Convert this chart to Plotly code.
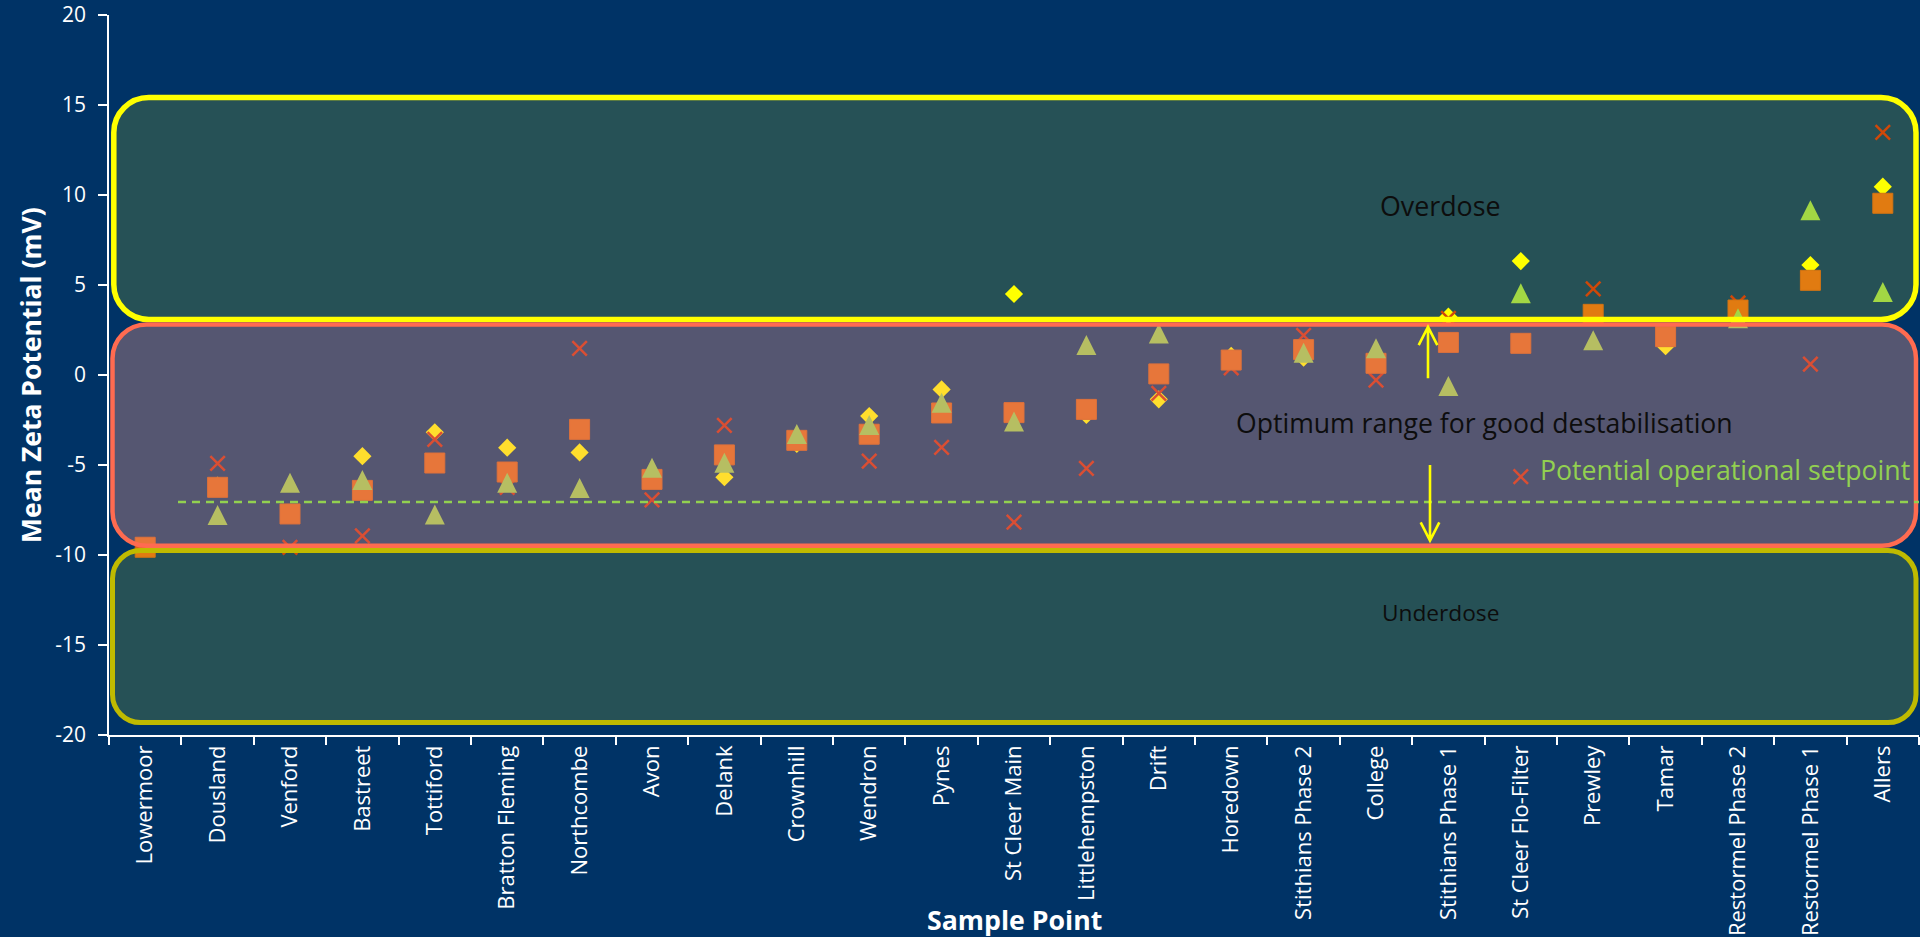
import plotly.graph_objects as go

# Sample points along the x axis
sample_points = [
    "Lowermoor", "Dousland", "Venford", "Bastreet", "Tottiford",
    "Bratton Fleming", "Northcombe", "Avon", "Delank", "Crownhill",
    "Wendron", "Pynes", "St Cleer Main", "Littlehempston", "Drift",
    "Horedown", "Stithians Phase 2", "College", "Stithians Phase 1",
    "St Cleer Flo-Filter", "Prewley", "Tamar", "Restormel Phase 2",
    "Restormel Phase 1", "Allers",
]

# Mean zeta potential (mV) for each sampling run
run_diamond = [None, -6.15, None, -4.51, -3.18, -4.04, -4.30, None, -5.68, -3.83,
               -2.28, -0.80, 4.50, -2.22, -1.35, 1.07, 0.96, None, 3.24,
               6.33, None, 1.60, None, 6.11, 10.46]
run_triangle = [None, -7.78, -5.99, -5.83, -7.75, -5.98, -6.28, -5.15, -4.87, -3.28,
                -2.78, -1.54, -2.59, 1.67, 2.31, None, 1.24, 1.48, -0.61,
                4.54, 1.93, None, 3.15, 9.15, 4.61]
run_cross = [None, -4.91, -9.57, -8.94, -3.57, -6.24, 1.48, -6.94, -2.80, None,
             -4.78, -4.02, -8.18, -5.19, -1.02, 0.40, 2.20, -0.28, 3.15,
             -5.65, 4.79, None, 4.00, 0.61, 13.48]
run_square = [-9.57, -6.24, -7.72, -6.41, -4.89, -5.39, -3.02, -5.80, -4.44, -3.63,
              -3.29, -2.11, -2.09, -1.91, 0.06, 0.83, 1.41, 0.65, 1.81,
              1.76, 3.37, 2.13, 3.61, 5.26, 9.54]

y_ticks = [-20, -15, -10, -5, 0, 5, 10, 15, 20]
y_tick_text = ["-20", "-15", "-10", "-5", "0", "5", "10", "15", "20"]

# Dosing bands (mV) and the proposed setpoint
overdose_band = (3.08, 15.42)
optimum_band = (-9.49, 2.81)
underdose_band = (-19.31, -9.75)
setpoint = -7.05

# Figure geometry
FIG_W, FIG_H = 1920, 937
M_L, M_R, M_T, M_B = 109, 1, 15, 202
PLOT_W = FIG_W - M_L - M_R
PLOT_H = FIG_H - M_T - M_B
Y_MIN, Y_MAX = -20, 20
PX_PER_UNIT = PLOT_H / (Y_MAX - Y_MIN)

BG = "#003366"
FONT = "Open Sans"

# Triangle markers are tip-anchored ("arrow-up"); their overlay axis is offset by
# half the marker height so each triangle is centred on its value.
TRI_SIZE = 20
TRI_SHIFT = (TRI_SIZE / 2) / PX_PER_UNIT


def px_to_paper_x(px):
    return (px - M_L) / PLOT_W


def rounded_rect(x0, x1, y0, y1, r):
    """Rounded rectangle path: x in paper units, y in data units, r in pixels."""
    rx = r / PLOT_W
    ry = r / PX_PER_UNIT
    k = 0.5523
    return (
        f"M{x0 + rx},{y1} L{x1 - rx},{y1} "
        f"C{x1 - rx + k * rx},{y1} {x1},{y1 - ry + k * ry} {x1},{y1 - ry} "
        f"L{x1},{y0 + ry} "
        f"C{x1},{y0 + ry - k * ry} {x1 - rx + k * rx},{y0} {x1 - rx},{y0} "
        f"L{x0 + rx},{y0} "
        f"C{x0 + rx - k * rx},{y0} {x0},{y0 + ry - k * ry} {x0},{y0 + ry} "
        f"L{x0},{y1 - ry} "
        f"C{x0},{y1 - ry + k * ry} {x0 + rx - k * rx},{y1} {x0 + rx},{y1} Z"
    )


def arrow_path(x_px, y_tail, y_tip, head_w=9.3, head_l=18.2):
    """Open-headed vertical arrow: x in pixels, y in data units."""
    x = px_to_paper_x(x_px)
    dx = head_w / PLOT_W
    dy = head_l / PX_PER_UNIT * (1 if y_tip < y_tail else -1)
    return (
        f"M{x},{y_tail} L{x},{y_tip} "
        f"M{x - dx},{y_tip + dy} L{x},{y_tip} L{x + dx},{y_tip + dy}"
    )


fig = go.Figure()

fig.add_trace(go.Scatter(
    x=sample_points, y=run_diamond, mode="markers", name="Run A",
    marker=dict(symbol="diamond", size=14, color="#FFFF00", line=dict(width=0)),
))
fig.add_trace(go.Scatter(
    x=sample_points, y=run_triangle, mode="markers", name="Run B", yaxis="y2",
    marker=dict(symbol="arrow-up", size=TRI_SIZE, color="#92D050", line=dict(width=0)),
))
fig.add_trace(go.Scatter(
    x=sample_points, y=run_cross, mode="markers", name="Run C",
    marker=dict(symbol="x-thin", size=14.5, color="rgb(200,40,10)",
                line=dict(width=2.5, color="rgb(200,40,10)")),
))
fig.add_trace(go.Scatter(
    x=sample_points, y=run_square, mode="markers", name="Run D",
    marker=dict(symbol="square", size=20, color="rgb(220,100,20)",
                line=dict(width=1, color="rgb(205,92,22)")),
))

bx0, bx1 = px_to_paper_x(112.5), px_to_paper_x(1916)
shapes = [
    dict(type="path", xref="paper", yref="y", layer="above",
         path=rounded_rect(px_to_paper_x(113.8), bx1, *overdose_band, 35),
         fillcolor="rgba(255,255,0,0.15)", line=dict(color="#FFFF00", width=5.5)),
    dict(type="path", xref="paper", yref="y", layer="above",
         path=rounded_rect(bx0, bx1, *optimum_band, 34),
         fillcolor="rgba(255,157,134,0.333)", line=dict(color="#FF6B50", width=4.5)),
    dict(type="path", xref="paper", yref="y", layer="above",
         path=rounded_rect(bx0, bx1, *underdose_band, 28),
         fillcolor="rgba(255,255,0,0.15)", line=dict(color="#BFBA00", width=5)),
    dict(type="line", xref="paper", yref="y", layer="above",
         x0=px_to_paper_x(178), x1=1, y0=setpoint, y1=setpoint,
         line=dict(color="#92D050", width=2.5, dash="8px,6px")),
    dict(type="path", xref="paper", yref="y", layer="above",
         path=arrow_path(1428, -0.18, 2.67),
         line=dict(color="#FFFF00", width=2.6)),
    dict(type="path", xref="paper", yref="y", layer="above",
         path=arrow_path(1430, -5.0, -9.20),
         line=dict(color="#FFFF00", width=2.6)),
]

annotations = [
    dict(text="Overdose", xref="paper", yref="y", x=px_to_paper_x(1440), y=9.44,
         showarrow=False, font=dict(family=FONT, size=26.8, color="#0D0D0D"),
         xanchor="center", yanchor="middle"),
    dict(text="Optimum range for good destabilisation", xref="paper", yref="y",
         x=px_to_paper_x(1484), y=-2.67, showarrow=False,
         font=dict(family=FONT, size=26.6, color="#0D0D0D"),
         xanchor="center", yanchor="middle"),
    dict(text="Underdose", xref="paper", yref="y", x=px_to_paper_x(1440), y=-13.22,
         showarrow=False, font=dict(family=FONT, size=22.7, color="#0D0D0D"),
         xanchor="center", yanchor="middle"),
    dict(text="Potential operational setpoint", xref="paper", yref="y",
         x=px_to_paper_x(1538), y=-5.24, showarrow=False,
         font=dict(family=FONT, size=26.7, color="#92D050"),
         xanchor="left", yanchor="middle"),
    dict(text="<b>Mean Zeta Potential (mV)</b>", xref="paper", yref="y",
         x=px_to_paper_x(31), y=0, textangle=-90, showarrow=False,
         font=dict(family=FONT, size=26.5, color="white"),
         xanchor="center", yanchor="middle"),
    dict(text="<b>Sample Point</b>", xref="paper", yref="paper",
         x=0.5, y=(PLOT_H - (919.3 - M_T)) / PLOT_H, showarrow=False,
         font=dict(family=FONT, size=26.7, color="white"),
         xanchor="center", yanchor="middle"),
]

fig.update_layout(
    width=FIG_W, height=FIG_H, autosize=False,
    margin=dict(l=M_L, r=M_R, t=M_T, b=M_B, pad=0),
    paper_bgcolor=BG, plot_bgcolor=BG,
    showlegend=False,
    font=dict(family=FONT, color="white"),
    shapes=shapes, annotations=annotations,
    xaxis=dict(
        type="category", categoryorder="array", categoryarray=sample_points,
        range=[-0.5, len(sample_points) - 0.5], automargin=False,
        tickangle=-90, tickson="boundaries", ticks="outside", ticklen=8,
        tickcolor="white", tickwidth=1.5, showline=True, linecolor="white",
        linewidth=1.5, showgrid=False, zeroline=False,
        tickfont=dict(family=FONT, size=22, color="white"),
    ),
    yaxis=dict(
        range=[Y_MIN, Y_MAX], tickvals=y_ticks, ticktext=y_tick_text,
        automargin=False,
        ticks="outside", ticklen=9, tickcolor="white", tickwidth=1.5,
        showline=True, linecolor="white", linewidth=1.5,
        showgrid=False, zeroline=False, ticklabelstandoff=8,
        tickfont=dict(family=FONT, size=21, color="white"),
    ),
    yaxis2=dict(
        overlaying="y", range=[Y_MIN - TRI_SHIFT, Y_MAX - TRI_SHIFT],
        visible=False, showgrid=False, zeroline=False, automargin=False,
    ),
)

fig.write_html("out.html")
